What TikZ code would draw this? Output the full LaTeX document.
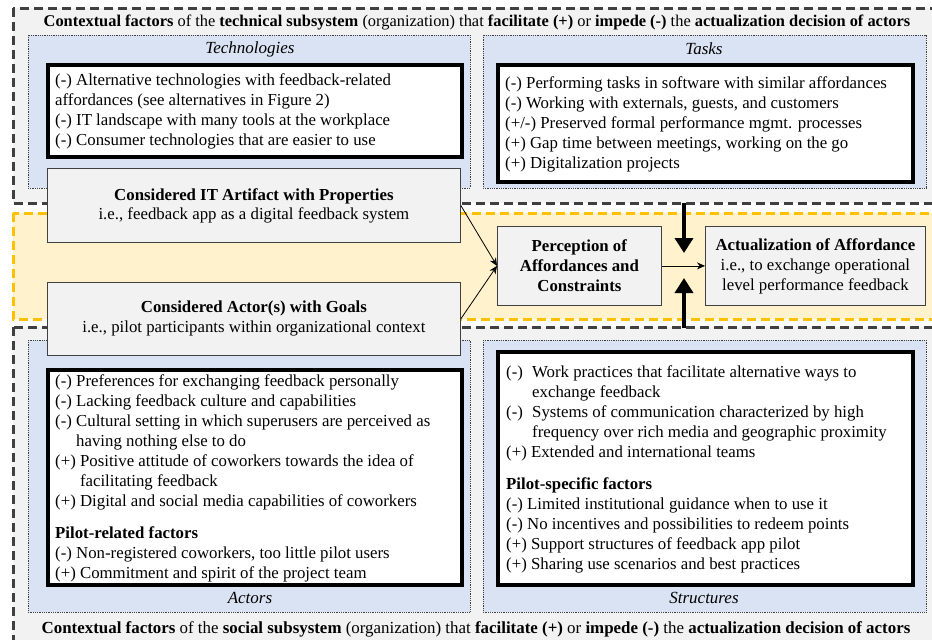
\documentclass[tikz,border=0pt]{standalone}
\usepackage{fontspec}
\setmainfont{Liberation Serif}
\usetikzlibrary{arrows.meta}
\definecolor{outerfill}{HTML}{F2F2F2}
\definecolor{dashgray}{HTML}{404040}
\definecolor{bandfill}{HTML}{FFF2CC}
\definecolor{banddash}{HTML}{FFC000}
\definecolor{bluefill}{HTML}{DAE3F3}
\definecolor{boxgray}{HTML}{F2F2F2}
\tikzset{
  outerbox/.style={fill=outerfill, draw=dashgray, line width=3pt, dash pattern=on 9pt off 5pt},
  bandbox/.style={fill=bandfill, draw=banddash, line width=3pt, dash pattern=on 9pt off 5pt},
  bluebox/.style={fill=bluefill, draw=dashgray, line width=0.8pt, densely dotted},
  listbox/.style={fill=white, draw=black, line width=3.5pt, inner sep=0pt, anchor=north west},
  graybox/.style={fill=boxgray, draw=dashgray, line width=0.8pt, inner sep=0pt, anchor=north west, align=center},
  listtext/.style={anchor=base west, align=left, inner sep=0pt},
  catlabel/.style={inner sep=0pt, font=\fontsize{17}{20}\selectfont\itshape},
  headtext/.style={inner sep=0pt},
  thinarrow/.style={draw=black, line width=0.8pt, -{Stealth[length=8pt,width=7pt]}},
  thickarrow/.style={draw=black, line width=4.5pt, -{Triangle[length=15pt,width=18pt]}}
}
\begin{document}
\begin{tikzpicture}[x=1pt,y=-1pt, font=\fontsize{16.8}{20}\selectfont]
\useasboundingbox (0,0) rectangle (932,640);
\begin{scope}
\clip (0,0) rectangle (932,640);
% outer containers
\draw[outerbox] (13,8) rectangle (960,203);
\draw[outerbox] (13,327) rectangle (960,680);
\draw[bandbox] (13,213) rectangle (960,319);
% blue category boxes
\draw[bluebox] (28,35) rectangle (470,188);
\draw[bluebox] (483,35) rectangle (926,188);
\draw[bluebox] (28,340) rectangle (470,612);
\draw[bluebox] (483,340) rectangle (926,612);
\end{scope}

% headers
\node[headtext, font=\fontsize{16.4}{20}\selectfont] (tophead) at (477,22) {\textbf{Contextual factors} of the \textbf{technical subsystem} (organization) that \textbf{facilitate (+)} or \textbf{impede (-)} the \textbf{actualization decision of actors}};
\node[headtext, font=\fontsize{16.9}{20}\selectfont] (bothead) at (476,629) {\textbf{Contextual factors} of the \textbf{social subsystem} (organization) that \textbf{facilitate (+)} or \textbf{impede (-)} the \textbf{actualization decision of actors}};

% category labels
\node[catlabel] (techlabel) at (250,49) {Technologies};
\node[catlabel] (tasklabel) at (704,49) {Tasks};
\node[catlabel] (actlabel) at (250,598) {Actors};
\node[catlabel] (strlabel) at (704,598) {Structures};

% list boxes
\node[listbox, minimum width=414pt, minimum height=92pt] (techbox) at (46,63) {};
\node[listbox, minimum width=415pt, minimum height=117pt] (taskbox) at (496,63) {};
\node[listbox, minimum width=414pt, minimum height=215pt] (actbox) at (46,368) {};
\node[listbox, minimum width=415pt, minimum height=233pt] (strbox) at (496,350) {};

% (anchor base west = baseline of the last line)
\node[listtext] (techtext) at (55,145) {(-) Alternative technologies with feedback-related\\
affordances (see alternatives in Figure 2)\\
(-) IT landscape with many tools at the workplace\\
(-) Consumer technologies that are easier to use};

\node[listtext] (tasktext) at (505,168) {(-) Performing tasks in software with similar affordances\\
(-) Working with externals, guests, and customers\\
(+/-) Preserved formal performance mgmt. processes\\
(+) Gap time between meetings, working on the go\\
(+) Digitalization projects};

\node[listtext] (acttext) at (55,578) {(-) Preferences for exchanging feedback personally\\
(-) Lacking feedback culture and capabilities\\
(-) Cultural setting in which superusers are perceived as\\
\phantom{(-) }having nothing else to do\\
(+) Positive attitude of coworkers towards the idea of\\
\phantom{(+) }facilitating feedback\\
(+) Digital and social media capabilities of coworkers\\[12pt]
\textbf{Pilot-related factors}\\
(-) Non-registered coworkers, too little pilot users\\
(+) Commitment and spirit of the project team};

\node[listtext] (strtext) at (506,569) {\makebox[26pt][l]{(-)}Work practices that facilitate alternative ways to\\
\hspace*{26pt}exchange feedback\\
\makebox[26pt][l]{(-)}Systems of communication characterized by high\\
\hspace*{26pt}frequency over rich media and geographic proximity\\
(+) Extended and international teams\\[12pt]
\textbf{Pilot-specific factors}\\
(-) Limited institutional guidance when to use it\\
(-) No incentives and possibilities to redeem points\\
(+) Support structures of feedback app pilot\\
(+) Sharing use scenarios and best practices};

% central gray boxes
\node[graybox, minimum width=413pt, minimum height=74pt] (artifact) at (47,168) {\textbf{Considered IT Artifact with Properties}\\[-1pt] i.e., feedback app as a digital feedback system};
\node[graybox, minimum width=413pt, minimum height=73pt] (actor) at (47,282) {\textbf{Considered Actor(s) with Goals}\\ i.e., pilot participants within organizational context};
\node[graybox, minimum width=164pt, minimum height=79pt] (perception) at (497,226) {\textbf{Perception of}\\ \textbf{Affordances and}\\ \textbf{Constraints}};
\node[graybox, minimum width=220pt, minimum height=79pt] (actualization) at (705,226) {\textbf{Actualization of Affordance}\\ i.e., to exchange operational\\ level performance feedback};

% connectors
\draw[thinarrow] (artifact.east) -- (perception.west);
\draw[thinarrow] (actor.east) -- (perception.west);
\draw[thinarrow] (perception.east) -- (actualization.west);

\coordinate (techsrc) at (684,203);
\coordinate (techtip) at (684,253);
\coordinate (socsrc) at (684,328);
\coordinate (soctip) at (684,278);
\draw[thickarrow] (techsrc) -- (techtip);
\draw[thickarrow] (socsrc) -- (soctip);
\end{tikzpicture}
\end{document}
